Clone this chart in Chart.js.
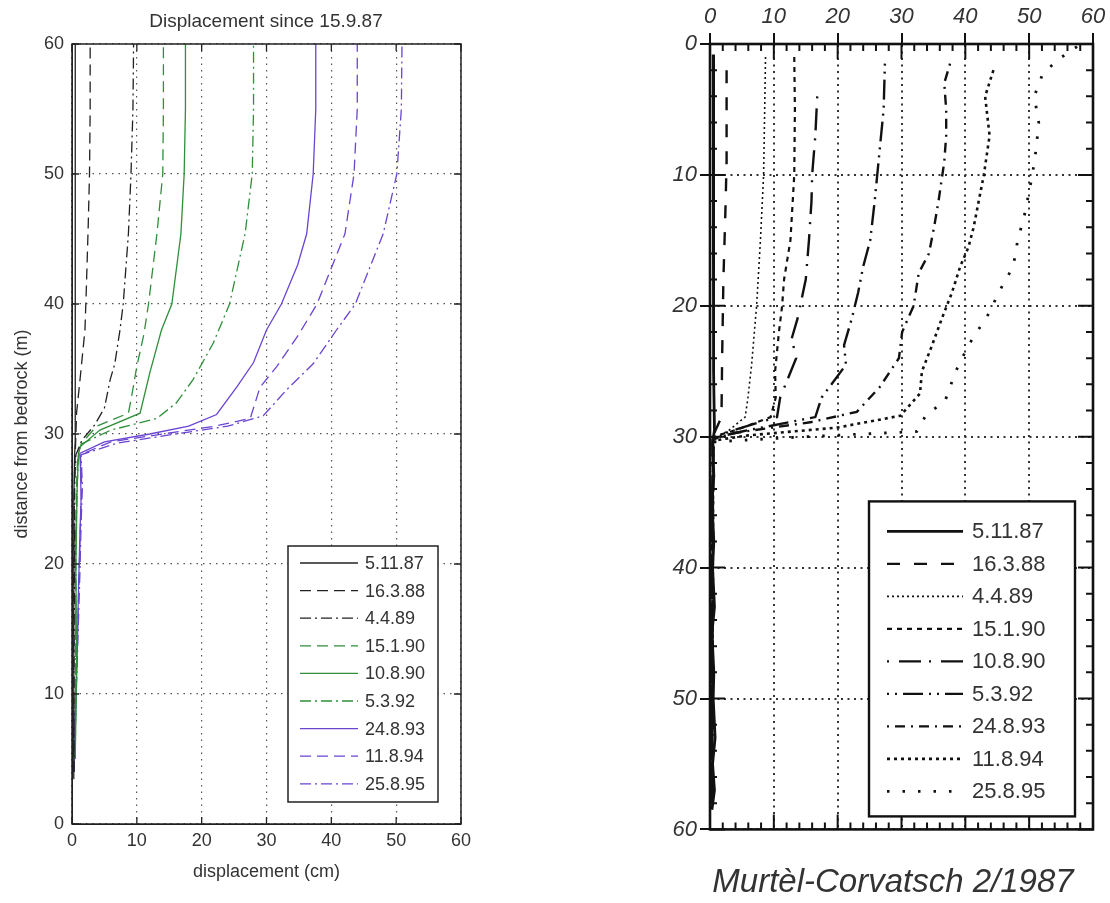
<!DOCTYPE html>
<html>
<head>
<meta charset="utf-8">
<script src="https://cdn.jsdelivr.net/npm/chart.js@4.4.1/dist/chart.umd.min.js"></script>
<style>
  html, body { margin: 0; padding: 0; background: #fff; overflow: hidden; }
  #wrap { position: relative; width: 1110px; height: 903px; overflow: hidden; }
  #left { position: absolute; left: 0; top: 0; }
  #right { position: absolute; left: 640px; top: 0; }
</style>
</head>
<body>
<div id="wrap">
  <canvas id="left" width="532" height="903"></canvas>
  <canvas id="right" width="506" height="903"></canvas>
</div>
<script>
// survey dates (legend labels, same for both panels)
const dates = ['5.11.87', '16.3.88', '4.4.89', '15.1.90', '10.8.90', '5.3.92', '24.8.93', '11.8.94', '25.8.95'];

// left panel: [displacement (cm), distance from bedrock (m)]
const left_5_11_87 = [[0.2,3.5],[0.3,8],[0.2,14],[0.3,20],[0.3,25],[0.4,28.3],[0.5,29.5],[0.5,35],[0.5,45],[0.5,60]];
const left_16_3_88 = [[0.2,4],[0.3,10],[0.2,16],[0.3,22],[0.4,27],[0.5,28.4],[0.6,30],[0.7,31.6],[1.2,34],[2.0,38],[2.2,41],[2.5,46],[2.7,50],[2.8,55],[2.8,60]];
const left_4_4_89 = [[0.3,4],[0.3,12],[0.4,20],[0.4,26],[0.6,28.4],[1.5,29.5],[3.5,30.7],[5.0,32],[5.9,34.2],[6.6,35.4],[7.4,38],[7.9,40],[8.7,45.4],[9.1,50],[9.4,55],[9.5,60]];
const left_15_1_90 = [[0.5,5],[0.6,12],[0.5,20],[0.7,26],[0.9,28.4],[1.5,29.3],[3.8,30.6],[8.7,31.6],[9.2,32.9],[10,35.2],[11.1,37.7],[11.8,40],[13.1,45.4],[14,50],[14.1,55],[14.1,60]];
const left_10_8_90 = [[0.5,5],[0.7,12],[0.6,20],[0.8,26],[1.0,28.5],[1.2,29.0],[4.3,30.3],[10.5,31.6],[12.0,34.7],[13.8,38],[15.4,40],[16.8,45.4],[17.3,50],[17.5,55],[17.5,60]];
const left_5_3_92 = [[0.5,5],[0.6,14],[0.6,22],[0.8,26],[1.0,28.4],[1.3,29.2],[6,30.3],[13.1,31.2],[16.1,32.4],[18.7,34.2],[21.8,37],[24.3,40],[26.7,45.4],[27.8,50],[28,55],[28,60]];
const left_24_8_93 = [[0.3,4],[0.5,8],[0.8,13],[1.0,18],[1.2,22],[1.4,25],[1.3,27.5],[1.2,28.5],[5,29.4],[12,30.0],[18,30.6],[22.3,31.5],[25.4,33.6],[28,35.5],[30,38],[32.3,40],[34.8,43],[36.2,45.4],[37.2,50],[37.6,55],[37.6,60]];
const left_11_8_94 = [[0.3,4],[0.6,9],[0.8,14],[1.1,19],[1.3,23],[1.5,26],[1.3,28.4],[6,29.4],[14,30.0],[22,30.6],[27.5,31.2],[29,33.6],[31.6,35.2],[34.9,37.6],[37.8,40],[42.1,45.4],[43.5,50],[44,55],[44,60]];
const left_25_8_95 = [[0.3,4],[0.6,9],[0.9,14],[1.2,19],[1.4,23],[1.6,26],[1.4,28.4],[7,29.3],[16,30.0],[24,30.6],[29.5,31.4],[33.1,33.4],[37.2,35.4],[40.8,38],[43.7,40],[48,45.4],[50.1,50],[50.8,55],[50.9,60]];

// right panel: [displacement (cm), depth (m)]
const right_5_11_87 = [[0.5,0.8],[0.6,5],[0.5,10],[0.6,15],[0.5,20],[0.6,25],[0.7,29.5],[0.4,30.5],[0.6,33],[0.3,35],[0.6,38],[0.4,40],[0.7,43],[0.3,45],[0.6,48],[0.5,50],[0.8,53],[0.4,55],[0.7,57],[0.3,58.5]];
const right_16_3_88 = [[2.6,2],[2.6,9],[2.4,13],[2.1,18],[1.9,24],[1.8,28.5],[0.6,29.8],[0.4,35],[0.3,45],[0.4,58]];
const right_4_4_89 = [[8.7,1],[8.4,10],[7.9,15],[7.3,20],[6.5,24.6],[5.9,27.2],[5.5,28.5],[3,29.5],[0.5,30.2],[0.3,40],[0.4,50],[0.3,58]];
const right_15_1_90 = [[13.2,1],[13.3,5],[13.2,10],[12.6,15],[11.6,18],[11.3,20],[10.8,22],[10.2,25],[10.3,27],[9.5,28.5],[4,29.5],[0.5,30],[0.3,40],[0.4,50],[0.3,58]];
const right_10_8_90 = [[16.8,4],[16.5,7],[16,10],[15.9,12],[15.5,15],[15,18],[13.7,21],[12.8,22.5],[13.5,24],[11,27],[10.5,28.5],[3,29.6],[0.4,30.2],[0.3,45],[0.3,58]];
const right_5_3_92 = [[27.4,1.5],[27.2,5],[26.6,8],[26.2,10],[25.8,12],[25.1,15],[24,17],[23.2,19],[22.2,21],[21,23],[21.3,24.5],[17.5,27],[16.5,28.5],[5,29.6],[0.5,30.1],[0.3,45],[0.3,58]];
const right_24_8_93 = [[37.6,1.5],[36.7,3],[37,5],[37,7],[36.7,9],[35.8,12],[35.1,14],[34.3,16],[32.7,17.5],[31.9,20],[30.1,22],[29.6,24],[26.6,26.2],[23,28.1],[15.7,28.9],[4,29.7],[0.5,30.2],[0.4,45],[0.3,58]];
const right_11_8_94 = [[44.4,2],[43.1,4],[43.8,7],[42.9,10],[42.1,12],[41.3,14],[40.5,15.5],[39.2,17],[37.9,19],[36.3,21],[34.8,23],[33.2,25],[32.9,26.7],[29.8,28.4],[20,29.3],[6,29.9],[0.5,30.3],[0.4,45],[0.3,58]];
const right_25_8_95 = [[57.5,0.2],[54.5,1.2],[52.1,2.3],[50.8,4],[51.5,6],[51.1,8],[50.5,10],[49.3,13],[48.2,15],[47.5,17],[45.2,19],[43.8,20.5],[40.5,23],[38.5,25],[36.8,27.3],[33.9,28.3],[32.4,29.6],[15,30],[0.5,30.4],[0.4,45],[0.3,58]];

const leftSeries = [left_5_11_87, left_16_3_88, left_4_4_89, left_15_1_90, left_10_8_90, left_5_3_92, left_24_8_93, left_11_8_94, left_25_8_95];
const rightSeries = [right_5_11_87, right_16_3_88, right_4_4_89, right_15_1_90, right_10_8_90, right_5_3_92, right_24_8_93, right_11_8_94, right_25_8_95];

const axisTicks = [0, 10, 20, 30, 40, 50, 60];

// styles
const BLACK = '#222', GREEN = '#2f8f3a', PURPLE = '#6a45d2';
const leftColors = [BLACK, BLACK, BLACK, GREEN, GREEN, GREEN, PURPLE, PURPLE, PURPLE];
const SOLID = [], DASH = [11, 6], DASHDOT = [11, 4, 2, 4];
const leftDashes = [SOLID, DASH, DASHDOT, DASH, SOLID, DASHDOT, SOLID, DASH, DASHDOT];
const rightDashes = [[], [13, 14], [2, 3], [5, 5], [2, 10, 22, 8], [2, 6, 2, 6, 20, 6], [2, 6, 10, 6], [3, 4], [2.5, 13]];
const rightWidths = [2.8, 2.4, 1.6, 2.2, 2.4, 2.4, 2.4, 2.6, 2.8];

const SANS = '"Liberation Sans", Arial, Helvetica, sans-serif';

const toXY = arr => arr.map(p => ({ x: p[0], y: p[1] }));

// box around the plot area
const frame = {
    id: 'frame',
    afterDatasetsDraw (chart, args, opts) {
        const { ctx, chartArea: a } = chart;
        ctx.save();
        ctx.strokeStyle = opts.color;
        ctx.lineWidth = opts.width;
        ctx.setLineDash([]);
        ctx.strokeRect(a.left, a.top, a.right - a.left, a.bottom - a.top);
        ctx.restore();
    }
};

// matlab-style tick marks pointing into the plot
const innerTicks = {
    id: 'innerTicks',
    afterDatasetsDraw (chart, args, opts) {
        const { ctx, chartArea: a, scales } = chart;
        const sx = scales.x, sy = scales.y;
        ctx.save();
        ctx.strokeStyle = opts.color;
        ctx.lineWidth = opts.width;
        ctx.setLineDash([]);
        ctx.beginPath();
        for (let v = sx.min; v <= sx.max + 1e-9; v += opts.step) {
            const len = Math.abs(v % opts.major) < 1e-9 ? opts.majorLen : opts.minorLen;
            const px = sx.getPixelForValue(v);
            if (opts.top) { ctx.moveTo(px, a.top); ctx.lineTo(px, a.top + len); }
            if (opts.bottom) { ctx.moveTo(px, a.bottom); ctx.lineTo(px, a.bottom - len); }
        }
        for (let v = sy.min; v <= sy.max + 1e-9; v += opts.step) {
            const len = Math.abs(v % opts.major) < 1e-9 ? opts.majorLen : opts.minorLen;
            const py = sy.getPixelForValue(v);
            if (opts.left) { ctx.moveTo(a.left, py); ctx.lineTo(a.left + len, py); }
            if (opts.right) { ctx.moveTo(a.right, py); ctx.lineTo(a.right - len, py); }
        }
        ctx.stroke();
        ctx.restore();
    }
};

// legend box drawn inside the plot area, lower right
const boxLegend = {
    id: 'boxLegend',
    afterDraw (chart, args, o) {
        const { ctx, chartArea: a } = chart;
        const bx = a.right - o.right - o.width;
        const by = a.bottom - o.bottom - o.height;
        ctx.save();
        ctx.fillStyle = '#fff';
        ctx.fillRect(bx, by, o.width, o.height);
        ctx.strokeStyle = o.frameColor;
        ctx.lineWidth = o.frameWidth;
        ctx.setLineDash([]);
        ctx.strokeRect(bx, by, o.width, o.height);
        ctx.font = o.font;
        ctx.fillStyle = o.textColor;
        ctx.textBaseline = 'middle';
        chart.data.datasets.forEach((ds, i) => {
            const cy = by + o.firstRow + i * o.rowH;
            ctx.strokeStyle = ds.borderColor;
            ctx.lineWidth = ds.borderWidth;
            ctx.setLineDash(ds.borderDash || []);
            ctx.beginPath();
            ctx.moveTo(bx + o.lineX0, cy);
            ctx.lineTo(bx + o.lineX1, cy);
            ctx.stroke();
            ctx.fillText(ds.label, bx + o.textX, cy + 1);
        });
        ctx.restore();
    }
};

Chart.defaults.font.family = SANS;

// ---- left panel
const tickFontL = { family: SANS, size: 18 };
new Chart(document.getElementById('left'), {
    type: 'scatter',
    data: {
        datasets: dates.map((d, i) => ({
            label: d,
            data: toXY(leftSeries[i]),
            showLine: true,
            borderColor: leftColors[i],
            borderDash: leftDashes[i],
            borderWidth: 1.3,
            pointRadius: 0,
            tension: 0
        }))
    },
    options: {
        responsive: false,
        animation: false,
        layout: { padding: 0 },
        plugins: {
            legend: { display: false },
            tooltip: { enabled: false },
            title: {
                display: true,
                text: 'Displacement since 15.9.87',
                color: '#333',
                font: { family: SANS, size: 19, weight: 'normal' },
                padding: { top: 10, bottom: 11.2 }
            },
            frame: { color: '#222', width: 1.5 },
            innerTicks: { step: 10, major: 10, majorLen: 7, minorLen: 7, color: '#222', width: 1.3, top: true, bottom: true, left: true, right: true },
            boxLegend: {
                right: 23, bottom: 22, width: 150, height: 256,
                firstRow: 17, rowH: 27.6, lineX0: 12, lineX1: 70, textX: 77,
                font: '18px ' + SANS, textColor: '#333', frameColor: '#222', frameWidth: 1.5
            }
        },
        scales: {
            x: {
                type: 'linear', min: 0, max: 60,
                afterBuildTicks: s => { s.ticks = axisTicks.map(v => ({ value: v })); },
                ticks: { font: tickFontL, color: '#333', padding: 6 },
                grid: { color: '#555', lineWidth: 1.2, drawTicks: false },
                border: { display: true, color: '#222', dash: [1.5, 5] },
                title: { display: true, text: 'displacement (cm)', color: '#333', font: tickFontL, padding: { top: 0, bottom: 20 } },
                afterFit: s => { s.height = 79; }
            },
            y: {
                type: 'linear', min: 0, max: 60,
                afterBuildTicks: s => { s.ticks = axisTicks.map(v => ({ value: v })); },
                ticks: { font: tickFontL, color: '#333', padding: 8 },
                grid: { color: '#555', lineWidth: 1.2, drawTicks: false },
                border: { display: true, color: '#222', dash: [1.5, 5] },
                title: { display: true, text: 'distance from bedrock (m)', color: '#333', font: tickFontL, padding: { top: 11, bottom: 0 } },
                afterFit: s => { s.width = 72; }
            },
            y2: {
                type: 'linear', position: 'right', display: true,
                ticks: { display: false },
                grid: { drawOnChartArea: false, drawTicks: false },
                border: { display: false },
                afterFit: s => { s.width = 71; }
            }
        }
    },
    plugins: [frame, innerTicks, boxLegend]
});

// ---- right panel (canvas runs past the window edge so the bottom title centres under the plot)
const tickFontR = { family: SANS, size: 22, style: 'italic' };
new Chart(document.getElementById('right'), {
    type: 'scatter',
    data: {
        datasets: dates.map((d, i) => ({
            label: d,
            data: toXY(rightSeries[i]),
            showLine: true,
            borderColor: '#111',
            borderDash: rightDashes[i],
            borderWidth: rightWidths[i],
            pointRadius: 0,
            tension: 0
        }))
    },
    options: {
        responsive: false,
        animation: false,
        layout: { padding: 0 },
        plugins: {
            legend: { display: false },
            tooltip: { enabled: false },
            title: {
                display: true,
                position: 'bottom',
                text: 'Murtèl-Corvatsch 2/1987',
                color: '#333',
                font: { family: SANS, size: 33, style: 'italic', weight: 'normal' },
                padding: { top: 34, bottom: 0 }
            },
            frame: { color: '#111', width: 2.6 },
            innerTicks: { step: 2, major: 10, majorLen: 15, minorLen: 7, color: '#111', width: 2, top: true, bottom: true, left: true, right: true },
            boxLegend: {
                right: 18, bottom: 13, width: 206, height: 315,
                firstRow: 30, rowH: 32.5, lineX0: 18, lineX1: 94, textX: 103,
                font: '22px ' + SANS, textColor: '#333', frameColor: '#111', frameWidth: 2.4
            }
        },
        scales: {
            x: {
                type: 'linear', position: 'top', min: 0, max: 60,
                afterBuildTicks: s => { s.ticks = axisTicks.map(v => ({ value: v })); },
                ticks: { font: tickFontR, color: '#333', padding: 3 },
                grid: { color: '#333', lineWidth: 2, tickLength: 11, tickColor: '#111', tickWidth: 2 },
                border: { display: true, color: '#111', dash: [2, 4.5] },
                afterFit: s => { s.height = 44; }
            },
            y: {
                type: 'linear', reverse: true, min: 0, max: 60,
                afterBuildTicks: s => { s.ticks = axisTicks.map(v => ({ value: v })); },
                ticks: { font: tickFontR, color: '#333', padding: 3 },
                grid: { color: '#333', lineWidth: 2, tickLength: 10, tickColor: '#111', tickWidth: 2 },
                border: { display: true, color: '#111', dash: [2, 4.5] },
                afterFit: s => { s.width = 70; }
            },
            y2: {
                type: 'linear', position: 'right', display: true,
                ticks: { display: false },
                grid: { drawOnChartArea: false, drawTicks: false },
                border: { display: false },
                afterFit: s => { s.width = 53; }
            }
        }
    },
    plugins: [frame, innerTicks, boxLegend]
});
</script>
</body>
</html>
